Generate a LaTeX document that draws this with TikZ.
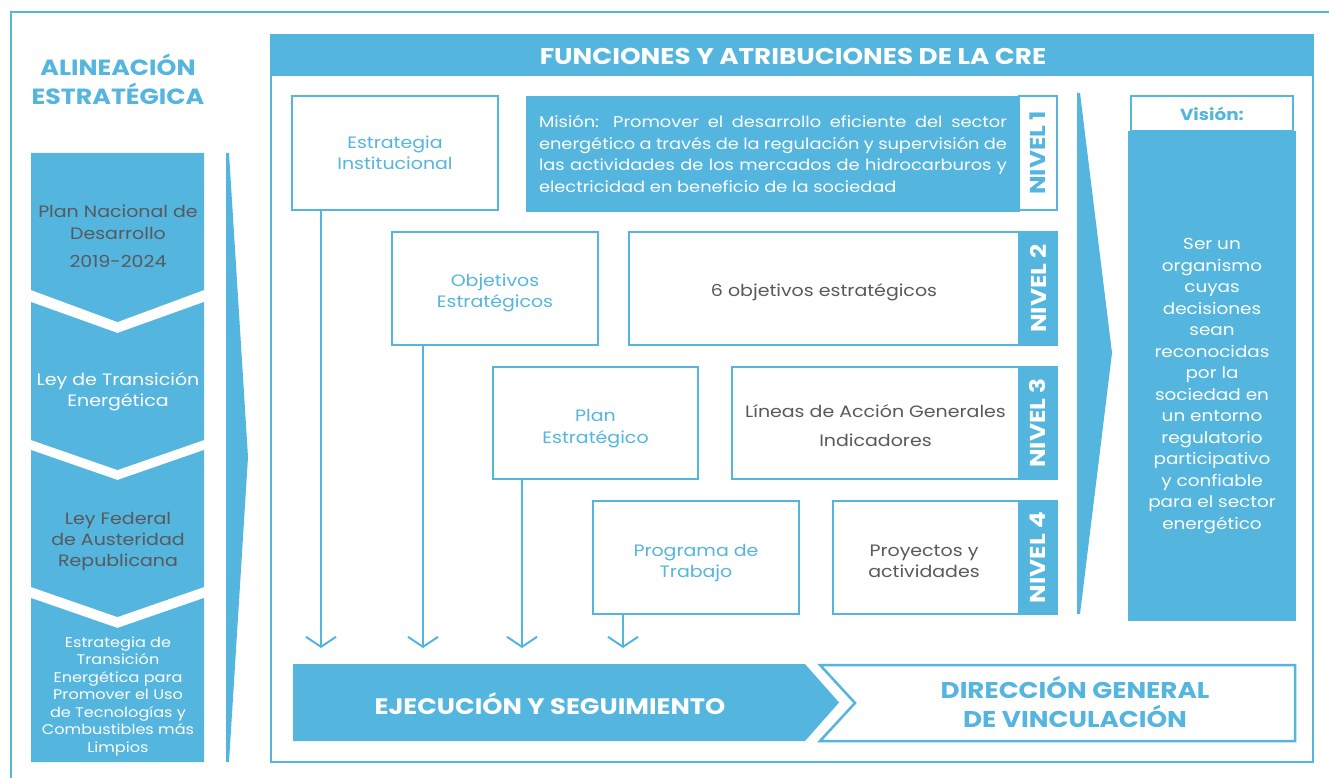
\documentclass[tikz,border=0pt]{standalone}
\usepackage{fontspec}
\setmainfont{Poppins}[FakeStretch = 1.15]
\usetikzlibrary{positioning, arrows.meta}
\definecolor{crecyan}{HTML}{54B5DF}
\definecolor{cregray}{HTML}{58595B}
\newcommand{\FontSize}[2]{\fontsize{#1}{#2}\selectfont}

\tikzset{
    outlinebox/.style = {draw = crecyan, line width = 2pt, fill = white, inner sep = 0pt, outer sep = 0pt, align = center},
    filledbox/.style  = {draw = crecyan, line width = 2pt, fill = crecyan, inner sep = 0pt, outer sep = 0pt, align = center},
    boxtext/.style    = {align = center, font = \FontSize{16.5}{21.5}},
    nivelbar/.style   = {filledbox, text = white, rotate = 90, minimum height = 38pt, font = \FontSize{21.5}{21.5}\bfseries},
    flowline/.style   = {draw = crecyan, line width = 2pt, -{Straight Barb[length = 10pt, width = 30pt]}},
}

\begin{document}
\begin{tikzpicture}[x = 1pt, y = -1pt]
    \useasboundingbox (0, 0) rectangle (1329, 778);

    % draw frames
    \draw[crecyan, line width = 2pt] (11, 778) -- (11, 12) -- (1329, 12);
    \draw[crecyan, line width = 2.5pt, fill = white] (271, 35) rectangle (1313, 762);
    \fill[crecyan] (271, 35) rectangle (1313, 76);
    \node[text = white, font = \FontSize{22.8}{22.8}\bfseries] (header) at (793, 56) {FUNCIONES Y ATRIBUCIONES DE LA CRE};


    % draw left column
    \node[text = crecyan, align = center, font = \FontSize{22}{29}\bfseries] (alineacion) at (118, 79) {ALINEACIÓN\\ESTRATÉGICA};

    \fill[crecyan] (31, 153) -- (204, 153) -- (204, 290) -- (117.5, 322) -- (31, 290) -- cycle;
    \fill[crecyan] (31, 302) -- (117.5, 333) -- (204, 302) -- (204, 440) -- (117.5, 470) -- (31, 440) -- cycle;
    \fill[crecyan] (31, 450) -- (117.5, 480) -- (204, 450) -- (204, 587) -- (117.5, 617) -- (31, 587) -- cycle;
    \fill[crecyan] (31, 598) -- (117.5, 628) -- (204, 598) -- (204, 762) -- (31, 762) -- cycle;

    \node[text = cregray, align = center, font = \FontSize{16.5}{22}] (plannacional) at (118, 236) {Plan Nacional de\\Desarrollo\\[6pt]2019-2024};
    \node[text = white, align = center, font = \FontSize{16.5}{21}] (leytransicion) at (118, 392) {Ley de Transición\\Energética};
    \node[text = cregray, align = center, font = \FontSize{16.5}{21}] (leyausteridad) at (118, 542) {Ley Federal\\de Austeridad\\Republicana};
    \node[text = white, align = center, font = \FontSize{14}{17.5}] (estrategiatrans) at (118, 696) {Estrategia de\\Transición\\Energética para\\Promover el Uso\\de Tecnologías y\\Combustibles más\\Limpios};

    \fill[crecyan] (226, 153) -- (229, 153) -- (248, 457) -- (229, 762) -- (226, 762) -- cycle;


    % draw level boxes
    \node[outlinebox, minimum width = 206pt, minimum height = 114pt] (estrat) at (395, 153) {};
    \node[boxtext, text = crecyan] (estrattext) at (395, 153) {Estrategia\\Institucional};
    \node[filledbox, minimum width = 492pt, minimum height = 114pt, text = white, text width = 468pt, align = justify, font = \FontSize{15.5}{21.5}] (mision) at (773, 154) {Misión: Promover el desarrollo eficiente del sector\linebreak energético a través de la regulación y supervisión de\linebreak las actividades de los mercados de hidrocarburos y\linebreak electricidad en beneficio de la sociedad};
    \node[nivelbar, fill = white, text = crecyan, minimum width = 114pt] (niv1) at (1038, 153) {NIVEL 1};

    \node[outlinebox, minimum width = 206pt, minimum height = 113pt] (objetivos) at (495, 288.5) {};
    \node[boxtext, text = crecyan] (objetivostext) at (495, 293) {Objetivos\\Estratégicos};
    \node[outlinebox, minimum width = 390pt, minimum height = 113pt] (seis) at (824, 288.5) {};
    \node[boxtext, text = cregray] (seistext) at (824, 292) {6 objetivos estratégicos};
    \node[nivelbar, minimum width = 113pt] (niv2) at (1038, 288.5) {NIVEL 2};

    \node[outlinebox, minimum width = 205pt, minimum height = 112pt] (plan) at (595.5, 423) {};
    \node[boxtext, text = crecyan] (plantext) at (595.5, 428.5) {Plan\\Estratégico};
    \node[outlinebox, minimum width = 287pt, minimum height = 112pt] (lineas) at (875.5, 423) {};
    \node[boxtext, text = cregray, font = \FontSize{16.5}{29}] (lineastext) at (875.5, 426) {Líneas de Acción Generales\\Indicadores};
    \node[nivelbar, minimum width = 112pt] (niv3) at (1038, 423) {NIVEL 3};

    \node[outlinebox, minimum width = 206pt, minimum height = 113pt] (programa) at (696, 557.5) {};
    \node[boxtext, text = crecyan] (programatext) at (696, 563) {Programa de\\Trabajo};
    \node[outlinebox, minimum width = 186pt, minimum height = 113pt] (proyectos) at (926, 557.5) {};
    \node[boxtext, text = cregray] (proyectostext) at (924, 561.5) {Proyectos y\\actividades};
    \node[nivelbar, minimum width = 113pt] (niv4) at (1038, 557.5) {NIVEL 4};


    % draw arrows down to the execution bar
    \coordinate (tipA) at (321, 648);
    \coordinate (tipB) at (423, 648);
    \coordinate (tipC) at (522, 648);
    \coordinate (tipD) at (623, 648);

    \draw[flowline] (estrat.south west -| tipA) -- (tipA);
    \draw[flowline] (objetivos.south west -| tipB) -- (tipB);
    \draw[flowline] (plan.south west -| tipC) -- (tipC);
    \draw[flowline] (programa.south west -| tipD) -- (tipD);


    % draw execution and vinculacion bars
    \fill[crecyan] (293, 664) -- (805, 664) -- (839, 702.5) -- (805, 741) -- (293, 741) -- cycle;
    \node[text = white, font = \FontSize{22.4}{22.4}\bfseries] (ejecucion) at (550, 704) {EJECUCIÓN Y SEGUIMIENTO};

    \draw[crecyan, line width = 2.5pt, line join = miter] (820, 665) -- (1295, 665) -- (1295, 741) -- (820, 741) -- (855, 703) -- cycle;
    \node[text = crecyan, align = center, font = \FontSize{22.8}{29}\bfseries] (direccion) at (1075, 702) {DIRECCIÓN GENERAL\\DE VINCULACIÓN};


    % draw vision
    \fill[crecyan] (1077, 93) -- (1080, 93) -- (1112, 353) -- (1080, 614) -- (1077, 614) -- cycle;

    \node[filledbox, minimum width = 166pt, minimum height = 488pt] (vision) at (1212, 376) {};
    \node[outlinebox, minimum width = 162pt, minimum height = 35pt, text = crecyan, font = \FontSize{16}{16}\bfseries] (visionlabel) at (1212, 114) {Visión:};
    \node[text = white, align = center, font = \FontSize{16}{21.5}] (visiontext) at (1212, 386) {Ser un\\organismo\\cuyas\\decisiones\\sean\\reconocidas\\por la\\sociedad en\\un entorno\\regulatorio\\participativo\\y confiable\\para el sector\\energético};

\end{tikzpicture}
\end{document}
